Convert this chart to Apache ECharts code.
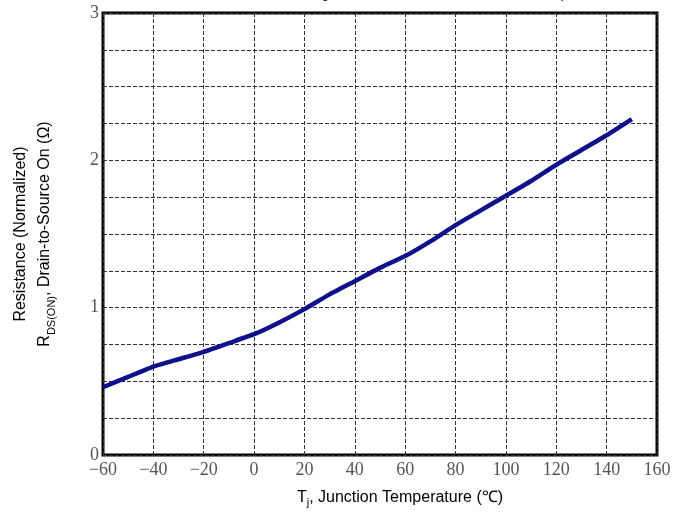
<!DOCTYPE html>
<html>
<head>
<meta charset="utf-8">
<script src="https://cdn.jsdelivr.net/npm/echarts@6/dist/echarts.min.js"></script>
<style>
  html, body { margin: 0; padding: 0; background: #fff; }
  #chart { width: 680px; height: 515px; }
</style>
</head>
<body>
<div id="chart"></div>
<script>
// junction temperature (°C) and normalized R_DS(on)
const temps = [-60, -50, -40, -30, -20, -10, 0, 10, 20, 30, 40, 50, 60, 70, 80, 90, 100, 110, 120, 130, 140, 150];
const resistance = [0.46, 0.53, 0.60, 0.65, 0.70, 0.76, 0.82, 0.90, 0.99, 1.09, 1.18, 1.27, 1.35, 1.45, 1.56, 1.66, 1.76, 1.86, 1.97, 2.07, 2.17, 2.28];
const yLabels = [0, 1, 2, 3];

const chart = echarts.init(document.getElementById("chart"));

const tickFont = { fontFamily: "Liberation Serif", fontSize: 18, color: "#555" };
const gridLine = { show: true, lineStyle: { color: "#333", type: [4, 2], width: 1 } };

const option = {
  animation: false,
  graphic: [
    {
      // title is cut off at the top of the picture, only the descenders show
      type: "text",
      left: 311,
      top: -12,
      style: {
        text: "Figure 9. On-Resistance Variation with Temperature",
        font: "13px 'Liberation Sans'",
        fill: "#000",
      },
    },
  ],
  grid: {
    left: 103,
    right: 23,
    top: 13,
    bottom: 60,
    show: true,
    borderColor: "#000",
    borderWidth: 3,
  },
  xAxis: {
    type: "value",
    min: -60,
    max: 160,
    interval: 20,
    axisLine: { show: false },
    axisTick: { show: false },
    splitLine: gridLine,
    axisLabel: {
      ...tickFont,
      margin: 6,
      formatter: (v) => String(v).replace("-", "\u2212"),
    },
    name: "{a|T}{sub|j}{a|, Junction Temperature (\u2103)}",
    nameLocation: "middle",
    nameGap: 33,
    nameTextStyle: {
      padding: [0, 0, 0, 40],
      rich: {
        a: { fontFamily: "Liberation Sans", fontSize: 16, color: "#000", lineHeight: 20 },
        sub: { fontFamily: "Liberation Sans", fontSize: 11, color: "#000", lineHeight: 12, verticalAlign: "bottom" },
      },
    },
  },
  yAxis: {
    type: "value",
    min: 0,
    max: 3,
    interval: 0.25,
    axisLine: { show: false },
    axisTick: { show: false },
    splitLine: gridLine,
    axisLabel: {
      ...tickFont,
      margin: 4,
      formatter: (v) => {
        const r = Math.round(v);
        return Math.abs(v - r) < 1e-6 && yLabels.includes(r) ? String(r) : "";
      },
    },
    name: "{a|Resistance (Normalized)}\n{a|R}{sub|DS(ON)}{a|, Drain-to-Source On (\u03a9)}",
    nameLocation: "middle",
    nameGap: 46,
    nameTextStyle: {
      rich: {
        a: { fontFamily: "Liberation Sans", fontSize: 16, color: "#000", lineHeight: 24 },
        sub: { fontFamily: "Liberation Sans", fontSize: 11, color: "#000", lineHeight: 12, verticalAlign: "bottom" },
      },
    },
  },
  series: [
    {
      type: "line",
      data: temps.map((t, i) => [t, resistance[i]]),
      smooth: 0.15,
      symbol: "none",
      lineStyle: { color: "#10108a", width: 4.5 },
    },
  ],
};

option && chart.setOption(option);
</script>
</body>
</html>
